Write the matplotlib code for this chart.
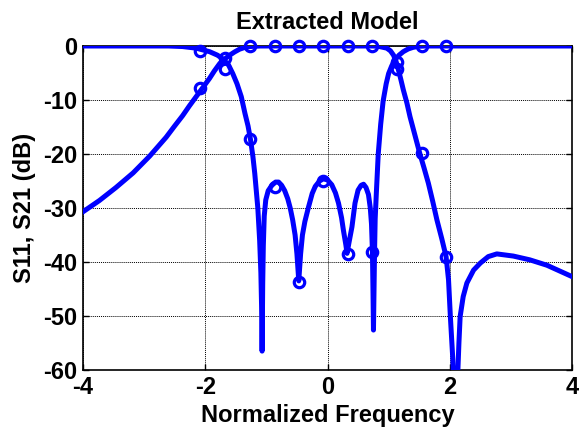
import numpy as np
import matplotlib
matplotlib.use("Agg")
import matplotlib.pyplot as plt

# S11 / S21 of the extracted filter model (dB vs normalized frequency)
freq_s11 = [-4.0, -2.6, -2.37, -2.15, -1.93, -1.80, -1.71, -1.62, -1.55, -1.48,
            -1.41, -1.35, -1.30, -1.26, -1.22, -1.19, -1.14, -1.11, -1.09, -1.075,
            -1.07, -1.06, -1.05, -1.035, -1.01, -0.97, -0.91, -0.85, -0.80, -0.75,
            -0.70, -0.65, -0.61, -0.57, -0.53, -0.50, -0.47, -0.44, -0.41, -0.37,
            -0.31, -0.25, -0.20, -0.13, -0.07, 0.0, 0.07, 0.13, 0.18, 0.23,
            0.26, 0.30, 0.32, 0.35, 0.40, 0.45, 0.50, 0.55, 0.59, 0.63,
            0.67, 0.70, 0.72, 0.735, 0.745, 0.752, 0.76, 0.77, 0.78, 0.80,
            0.83, 0.87, 0.91, 0.96, 1.00, 1.05, 1.10, 1.17, 1.24, 1.32,
            1.40, 1.50, 1.60, 4.0]
s11_db = [0.0, 0.0, -0.1, -0.4, -1.05, -1.7, -2.4, -3.5, -5.1, -7.0,
          -9.4, -12.5, -14.8, -17.3, -20.5, -23.6, -30.0, -36.0, -42.0, -50.0,
          -56.5, -44.0, -37.0, -31.5, -28.5, -26.8, -25.8, -25.2, -25.2, -25.8,
          -26.8, -28.3, -30.0, -32.2, -35.0, -38.5, -43.5, -38.5, -35.0, -32.5,
          -29.8, -27.3, -26.0, -25.0, -24.6, -24.8, -25.7, -27.2, -29.1, -31.8,
          -34.1, -36.8, -38.4, -36.5, -33.5, -29.1, -26.7, -25.8, -25.6, -26.2,
          -27.5, -30.0, -33.0, -38.0, -46.0, -52.6, -46.0, -38.0, -32.0, -27.0,
          -20.0, -14.5, -10.2, -7.0, -5.1, -3.7, -2.6, -1.7, -1.05, -0.55,
          -0.25, -0.05, 0.0, 0.0]

freq_s21 = [-4.0, -3.73, -3.46, -3.18, -2.91, -2.64, -2.50, -2.37, -2.26, -2.15,
            -2.04, -1.93, -1.85, -1.76, -1.68, -1.60, -1.52, -1.44, -1.35, -1.27,
            -1.10, 0.75, 0.85, 0.97, 1.03, 1.08, 1.12, 1.16, 1.20, 1.24,
            1.30, 1.35, 1.43, 1.51, 1.58, 1.65, 1.72, 1.79, 1.87, 1.94,
            1.98, 2.01, 2.05, 2.08, 2.10, 2.12, 2.15, 2.17, 2.22, 2.28,
            2.39, 2.50, 2.63, 2.77, 3.04, 3.31, 3.59, 4.0]
s21_db = [-30.7, -28.6, -26.2, -23.5, -20.4, -16.9, -14.8, -12.9, -11.1, -9.4,
          -7.7, -6.0, -4.6, -3.2, -2.4, -1.7, -1.1, -0.6, -0.25, -0.1,
          0.0, 0.0, -0.1, -0.4, -0.9, -1.7, -2.8, -4.4, -6.2, -8.1,
          -10.6, -13.1, -16.5, -19.9, -22.6, -25.4, -28.7, -32.2, -35.7, -39.0,
          -43.3, -50.1, -58.0, -68.0, -72.0, -64.0, -55.0, -50.1, -46.4, -43.9,
          -41.5, -40.2, -39.0, -38.5, -38.9, -39.6, -40.6, -42.7]

# measured points
freq_meas = [-2.09, -1.68, -1.27, -0.86, -0.47, -0.07, 0.34, 0.73, 1.14, 1.54, 1.94]
s11_meas = [-1.0, -4.3, -17.3, -26.1, -43.7, -25.0, -38.5, -38.2, -3.0, 0.0, 0.0]
s21_meas = [-7.7, -2.3, 0.0, 0.0, 0.0, 0.0, 0.0, 0.0, -4.3, -19.8, -39.0]

plt.rcParams['font.family'] = ['Liberation Sans', 'DejaVu Sans']
plt.rcParams['font.weight'] = 'bold'
plt.rcParams['axes.unicode_minus'] = False

fig = plt.figure(figsize=(5.79, 4.30), dpi=100)
ax = fig.add_axes([83/579, 1 - 370/430, (572 - 83)/579, (370 - 46)/430])

blue = '#0000ff'
ax.plot(freq_s11, s11_db, color=blue, lw=3.6, solid_joinstyle='round', zorder=3)
ax.plot(freq_s21, s21_db, color=blue, lw=3.6, solid_joinstyle='round', zorder=3)
ax.plot(freq_meas, s11_meas, 'o', color=blue, mfc='none', ms=7.5, mew=2.3, zorder=4, clip_on=False)
ax.plot(freq_meas, s21_meas, 'o', color=blue, mfc='none', ms=7.5, mew=2.3, zorder=4, clip_on=False)

ax.set_xlim(-4, 4)
ax.set_ylim(-60, 0)
ax.set_xticks([-4, -2, 0, 2, 4])
ax.set_yticks([0, -10, -20, -30, -40, -50, -60])
ax.grid(True, color='black', linestyle=(0, (1, 1)), linewidth=0.7)
ax.tick_params(direction='in', top=True, right=True, length=4, width=1,
               labelsize=17, pad=4)
for sp in ax.spines.values():
    sp.set_linewidth(1.2)

ax.set_title('Extracted Model', fontsize=17, fontweight='bold', pad=12)
ax.set_xlabel('Normalized Frequency', fontsize=17, fontweight='bold', labelpad=4)
ax.set_ylabel('S11, S21 (dB)', fontsize=17, fontweight='bold', labelpad=5)

fig.savefig('out.png', dpi=100)
